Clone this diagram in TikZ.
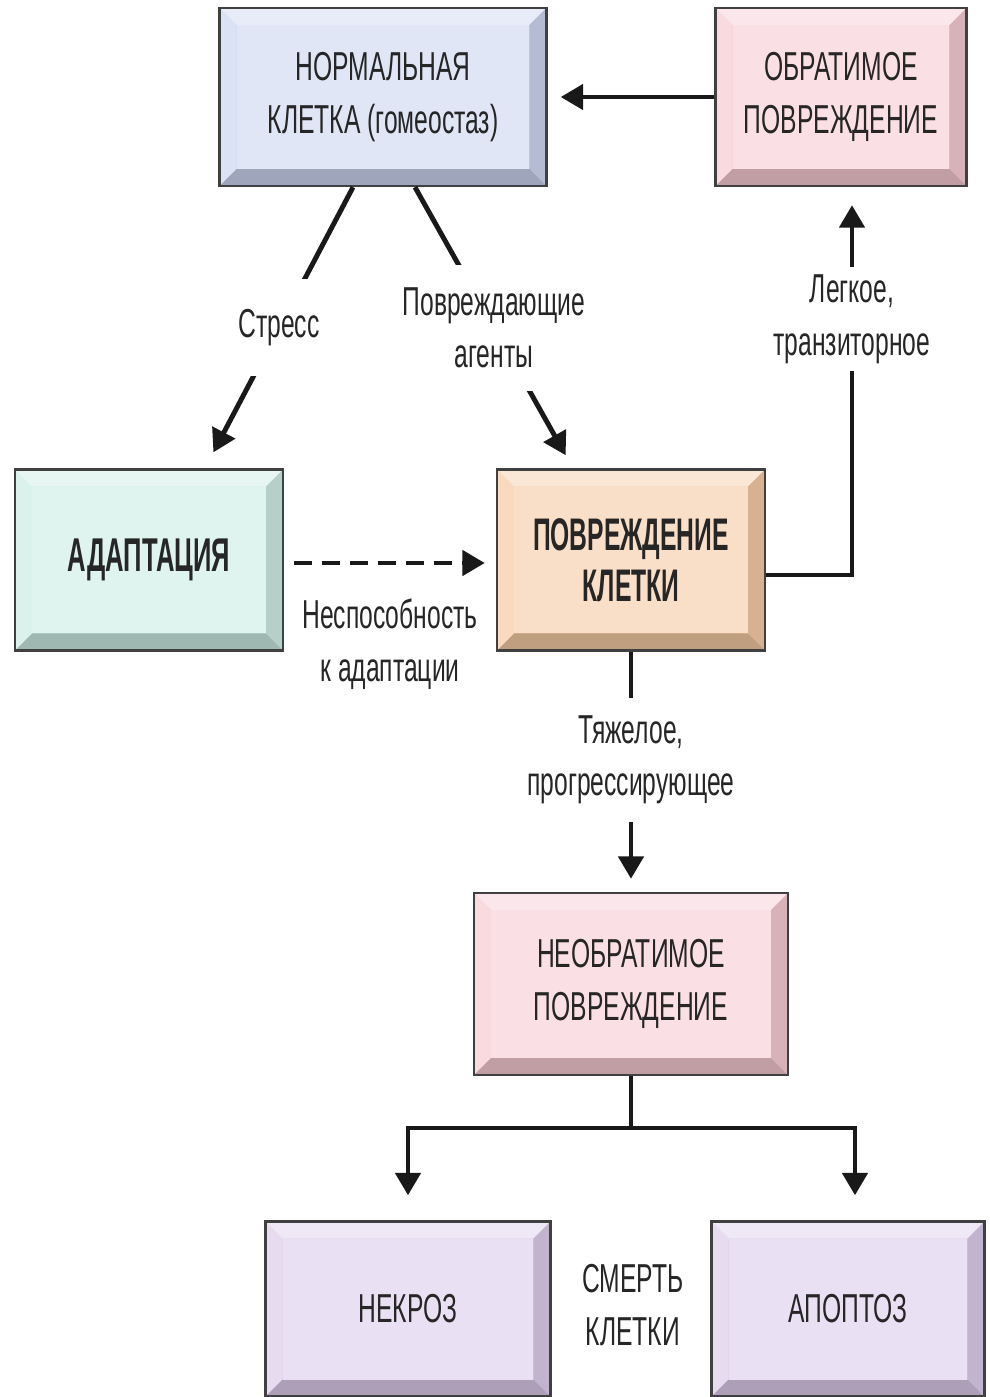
\documentclass[tikz,border=0pt]{standalone}
\usepackage{fontspec}
\newfontfamily\condfont[FakeStretch=0.61]{Liberation Sans}
\newfontfamily\condbold[FakeStretch=0.54]{Liberation Sans Bold}
\usetikzlibrary{calc}
\usetikzlibrary{arrows.meta}
\definecolor{normalblue}{RGB}{204,213,240}
\definecolor{lesionpink}{RGB}{246,202,210}
\definecolor{adaptmint}{RGB}{204,236,228}
\definecolor{injurypeach}{RGB}{246,202,164}
\definecolor{deathlilac}{RGB}{220,204,234}
\tikzstyle{cellbox}=[draw=black!75, line width=1.4pt, inner sep=0pt, align=center, text=black!85, font=\condfont\fontsize{23}{30}\selectfont]
\tikzstyle{link}=[line width=2.8pt, black!90]
\tikzstyle{arr}=[link, -{Triangle[width=0.5cm,length=0.45cm]}]
\tikzstyle{linklabel}=[fill=white, align=center, text=black!85, font=\condfont\fontsize{23}{30}\selectfont]
\tikzset{bevel/.style={fill=#1, path picture={
    \def\bw{0.34cm}
    \coordinate (nw) at (path picture bounding box.north west);
    \coordinate (ne) at (path picture bounding box.north east);
    \coordinate (sw) at (path picture bounding box.south west);
    \coordinate (se) at (path picture bounding box.south east);
    \fill[#1!45!white] (nw) -- (ne) -- ($(ne)+(-\bw,-\bw)$) -- ($(nw)+(\bw,-\bw)$) -- cycle; % top
    \fill[#1!70!white] (nw) -- (sw) -- ($(sw)+(\bw,\bw)$) -- ($(nw)+(\bw,-\bw)$) -- cycle; % left
    \fill[#1!88!black] (ne) -- (se) -- ($(se)+(-\bw,\bw)$) -- ($(ne)+(-\bw,-\bw)$) -- cycle; % right
    \fill[#1!78!black] (sw) -- (se) -- ($(se)+(-\bw,\bw)$) -- ($(sw)+(\bw,\bw)$) -- cycle; % bottom
    \fill[#1!60!white] ($(nw)+(\bw,-\bw)$) rectangle ($(se)+(-\bw,\bw)$);
  }}}

\begin{document}
\begin{tikzpicture}[x=0.02cm, y=-0.02cm]
\useasboundingbox (0,0) rectangle (990,1397);
% boxes
\node[cellbox, bevel=normalblue, minimum width=6.54cm, minimum height=3.56cm] (norm) at (383,97) {НОРМАЛЬНАЯ\\КЛЕТКА (гомеостаз)};
\node[cellbox, bevel=lesionpink, minimum width=5.02cm, minimum height=3.56cm] (rev) at (841,97) {ОБРАТИМОЕ\\ПОВРЕЖДЕНИЕ};
\node[cellbox, bevel=adaptmint, minimum width=5.36cm, minimum height=3.62cm, font=\condbold\fontsize{27}{32}\selectfont] (adapt) at (149,560) {АДАПТАЦИЯ};
\node[cellbox, bevel=injurypeach, minimum width=5.36cm, minimum height=3.62cm, font=\condbold\fontsize{26}{29}\selectfont] (dmg) at (631,560) {ПОВРЕЖДЕНИЕ\\КЛЕТКИ};
\node[cellbox, bevel=lesionpink, minimum width=6.28cm, minimum height=3.64cm] (irr) at (631,984) {НЕОБРАТИМОЕ\\ПОВРЕЖДЕНИЕ};
\node[cellbox, bevel=deathlilac, minimum width=5.7cm, minimum height=3.5cm] (necr) at (408,1309) {НЕКРОЗ};
\node[cellbox, bevel=deathlilac, minimum width=5.46cm, minimum height=3.5cm] (apop) at (848,1309) {АПОПТОЗ};
\node[linklabel, fill=none] (death) at (633,1305) {СМЕРТЬ\\КЛЕТКИ};

% connectors
\draw[arr, shorten >=0.26cm] (rev.west) -- (norm.east);
\draw[arr, shorten >=0.36cm] ([xshift=-0.6cm]norm.south) -- node[linklabel, inner ysep=0.6cm] {Стресс} ([xshift=1.12cm]adapt.north);
\draw[arr, shorten >=0.3cm] ([xshift=0.64cm]norm.south) -- node[linklabel, inner ysep=0.45cm] {Повреждающие\\агенты} ([xshift=-1.16cm]dmg.north);
\draw[arr, shorten >=0.36cm] ([yshift=-0.3cm]dmg.east) -| node[pos=0.83, linklabel, inner ysep=0.15cm] {Легкое,\\транзиторное} ([xshift=0.22cm]rev.south);
\draw[arr, dashed, dash pattern=on 0.36cm off 0.2cm, shorten <=0.2cm, shorten >=0.22cm] ([yshift=-0.06cm]adapt.east) -- node[linklabel, anchor=north, yshift=-0.55cm] {Неспособность\\к адаптации} ([yshift=-0.06cm]dmg.west);
\draw[arr, shorten >=0.26cm] (dmg.south) -- node[pos=0.45, linklabel, inner ysep=0.35cm] {Тяжелое,\\прогрессирующее} (irr.north);
\coordinate (split) at (631,1128);
\draw[link] (irr.south) -- (split);
\draw[arr, shorten >=0.5cm] (split) -| (necr.north);
\draw[arr, shorten >=0.5cm] (split) -| ([xshift=0.14cm]apop.north);
\end{tikzpicture}
\end{document}
